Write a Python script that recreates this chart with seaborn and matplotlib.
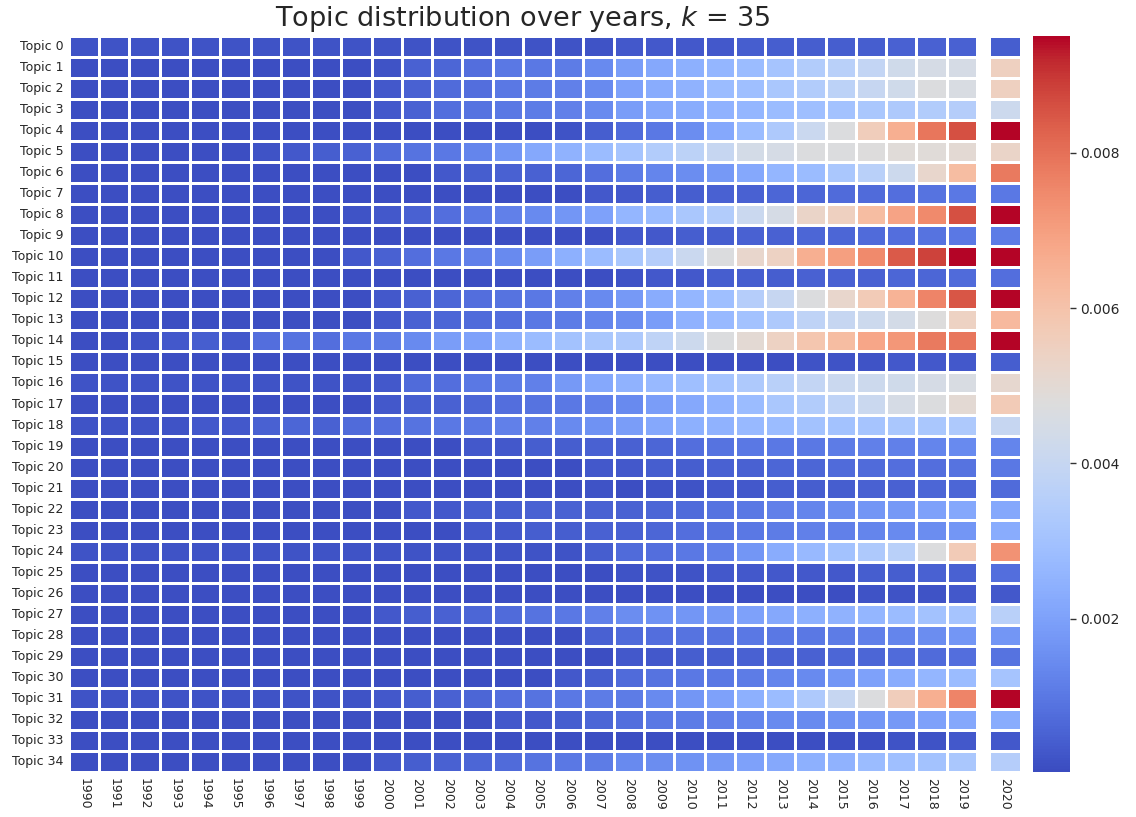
import numpy as np
import pandas as pd
import seaborn as sns
import matplotlib.pyplot as plt

# topic share per year in units of 1e-4
years = [str(y) for y in range(1990, 2020)]
topics = ['Topic %d' % i for i in range(35)]

#            1990 ............................ 1999 | 2000 ........................... 2009 | 2010 ........................... 2019
topic_rows = [
    [2, 2, 2, 2, 2, 2, 2, 2, 2, 2,   2, 2, 2, 2, 2, 2, 2, 2, 3, 3,   3, 3, 4, 4, 4, 4, 4, 5, 5, 5],        # 0
    [1, 1, 1, 1, 1, 1, 1, 1, 1, 1,   2, 5, 6, 8, 10, 10, 11, 14, 19, 22,   24, 26, 28, 31, 34, 36, 39, 43, 45, 45],  # 1
    [1, 1, 1, 1, 1, 1, 1, 1, 1, 1,   3, 5, 7, 8, 10, 11, 12, 14, 20, 23,   25, 28, 29, 32, 34, 37, 40, 43, 47, 46],  # 2
    [1, 1, 1, 1, 1, 1, 1, 1, 1, 1,   3, 5, 8, 9, 10, 11, 12, 14, 19, 22,   23, 25, 26, 28, 29, 30, 32, 33, 34, 35],  # 3
    [1, 1, 1, 1, 1, 1, 1, 1, 1, 1,   1, 1, 1, 1, 1, 1, 2, 4, 7, 10,   15, 22, 28, 33, 41, 47, 56, 66, 79, 86],      # 4
    [1, 1, 1, 1, 1, 1, 2, 3, 4, 5,   7, 9, 10, 13, 17, 22, 25, 28, 31, 34,   37, 40, 44, 45, 47, 47, 48, 49, 49, 50],  # 5
    [1, 1, 1, 1, 1, 1, 1, 1, 1, 1,   1, 1, 3, 4, 5, 5, 6, 8, 11, 13,   15, 18, 22, 26, 28, 32, 36, 42, 52, 62],      # 6
    [1, 1, 1, 1, 1, 1, 1, 1, 1, 1,   1, 1, 1, 1, 1, 1, 1, 3, 3, 4,   4, 5, 5, 6, 6, 7, 7, 8, 9, 10],               # 7
    [1, 1, 1, 1, 1, 1, 1, 1, 1, 2,   3, 5, 8, 10, 12, 14, 17, 20, 26, 28,   32, 34, 41, 45, 53, 55, 62, 69, 75, 86],   # 8
    [1, 1, 1, 1, 1, 1, 1, 1, 1, 1,   1, 1, 1, 1, 1, 1, 1, 1, 3, 3,   4, 4, 5, 5, 6, 6, 7, 8, 9, 10],               # 9
    [1, 1, 1, 1, 1, 1, 1, 1, 1, 3,   5, 8, 10, 12, 14, 19, 24, 28, 32, 35,   41, 47, 52, 54, 66, 70, 75, 84, 88, 95],  # 10
    [1, 1, 1, 1, 1, 1, 1, 1, 1, 1,   1, 1, 1, 1, 1, 1, 1, 1, 2, 3,   3, 4, 4, 4, 5, 5, 5, 6, 6, 7],                # 11
    [1, 1, 1, 1, 1, 1, 1, 1, 1, 1,   3, 5, 6, 8, 9, 10, 12, 14, 18, 23,   26, 29, 35, 40, 47, 52, 57, 65, 76, 85],   # 12
    [1, 1, 1, 1, 1, 1, 1, 1, 1, 1,   3, 5, 6, 7, 8, 10, 11, 13, 15, 19,   25, 27, 30, 33, 38, 40, 42, 44, 48, 54],   # 13
    [1, 1, 2, 3, 4, 3, 8, 9, 8, 10,   11, 14, 19, 20, 25, 28, 30, 32, 33, 38,   42, 47, 50, 54, 59, 62, 68, 72, 78, 79],  # 14
    [1, 1, 1, 1, 1, 1, 1, 1, 1, 1,   1, 1, 1, 1, 1, 1, 1, 1, 1, 1,   1, 1, 1, 1, 2, 2, 2, 3, 3, 3],                # 15
    [2, 2, 2, 2, 2, 2, 2, 2, 2, 2,   3, 7, 8, 10, 11, 12, 18, 22, 25, 27,   29, 31, 33, 36, 39, 41, 42, 43, 45, 46],   # 16
    [1, 1, 1, 1, 1, 1, 1, 1, 1, 1,   3, 4, 5, 6, 8, 9, 10, 12, 14, 19,   22, 25, 28, 32, 34, 38, 41, 45, 47, 50],     # 17
    [2, 2, 2, 2, 3, 3, 5, 6, 5, 7,   8, 9, 10, 10, 12, 12, 14, 16, 19, 22,   24, 25, 27, 28, 30, 30, 31, 32, 32, 33],   # 18
    [1, 1, 1, 1, 1, 1, 1, 1, 1, 1,   1, 1, 1, 3, 3, 4, 4, 5, 5, 6,   8, 9, 10, 10, 10, 11, 12, 12, 13, 14],        # 19
    [1, 1, 1, 1, 1, 1, 1, 1, 1, 1,   1, 1, 1, 1, 1, 1, 1, 3, 3, 4,   4, 5, 5, 6, 6, 7, 7, 8, 8, 9],                # 20
    [1, 1, 1, 1, 1, 1, 1, 1, 1, 1,   1, 1, 1, 1, 1, 1, 1, 2, 1, 2,   2, 3, 3, 4, 4, 4, 5, 5, 6, 6],                # 21
    [1, 1, 1, 1, 1, 1, 1, 1, 1, 1,   1, 3, 3, 4, 4, 5, 5, 5, 5, 6,   7, 9, 10, 12, 13, 15, 17, 18, 20, 22],        # 22
    [1, 1, 1, 1, 1, 1, 1, 1, 1, 1,   1, 1, 1, 3, 3, 4, 4, 5, 5, 6,   8, 9, 10, 11, 12, 12, 13, 14, 15, 17],        # 23
    [2, 2, 2, 2, 2, 2, 2, 2, 2, 2,   2, 2, 2, 2, 2, 2, 2, 4, 7, 8,   10, 12, 17, 23, 27, 30, 33, 36, 47, 57],      # 24
    [1, 1, 1, 1, 1, 1, 1, 1, 1, 1,   1, 1, 1, 1, 1, 1, 1, 1, 2, 2,   2, 3, 3, 3, 3, 3, 4, 4, 5, 5],                # 25
    [1, 1, 1, 1, 1, 1, 1, 1, 1, 1,   1, 1, 1, 1, 1, 1, 1, 1, 1, 1,   1, 1, 1, 1, 1, 1, 2, 2, 2, 3],                # 26
    [1, 1, 1, 1, 1, 1, 1, 1, 1, 1,   3, 4, 5, 6, 7, 9, 10, 12, 15, 16,   17, 18, 20, 22, 24, 25, 26, 28, 30, 31],     # 27
    [1, 1, 1, 1, 1, 1, 1, 1, 1, 1,   1, 1, 1, 1, 1, 1, 1, 5, 7, 8,   9, 9, 10, 10, 10, 11, 12, 13, 15, 17],        # 28
    [1, 1, 1, 1, 1, 1, 1, 1, 1, 1,   1, 1, 1, 1, 1, 1, 1, 1, 3, 3,   4, 4, 5, 5, 5, 6, 6, 7, 7, 8],                # 29
    [1, 1, 1, 1, 1, 1, 1, 1, 1, 1,   1, 1, 1, 1, 1, 1, 3, 4, 7, 9,   10, 10, 11, 13, 14, 17, 20, 23, 26, 28],      # 30
    [2, 2, 2, 2, 2, 2, 2, 2, 2, 2,   3, 4, 5, 6, 8, 9, 10, 11, 11, 14,   17, 20, 24, 28, 33, 40, 47, 56, 66, 76],     # 31
    [1, 1, 1, 1, 1, 1, 1, 1, 1, 1,   1, 1, 1, 1, 3, 3, 4, 6, 8, 10,   11, 12, 13, 14, 14, 16, 17, 18, 20, 22],      # 32
    [1, 1, 1, 1, 1, 1, 1, 1, 1, 1,   1, 1, 1, 1, 1, 1, 1, 1, 1, 1,   1, 1, 1, 1, 1, 1, 1, 2, 2, 3],                # 33
    [1, 1, 1, 1, 1, 1, 1, 1, 1, 1,   3, 4, 5, 6, 7, 9, 10, 11, 14, 15,   16, 18, 20, 22, 24, 25, 28, 29, 30, 32],     # 34
]

# the (partial) year 2020, shown in its own column
share_2020 = [4, 55, 55, 42, 95, 53, 78, 10, 95, 11, 95, 8, 95, 63, 95, 4, 51, 57,
              40, 13, 10, 7, 22, 23, 73, 8, 3, 36, 17, 9, 31, 95, 23, 3, 35]

df = pd.DataFrame(np.array(topic_rows) * 1e-4, index=topics, columns=years)
df_2020 = pd.DataFrame({'2020': np.array(share_2020) * 1e-4}, index=topics)

sns.set_theme(style='white')
plt.rcParams['font.family'] = ['DejaVu Sans']

vmin, vmax = 0.00003, 0.0095

fig = plt.figure(figsize=(11.36, 8.17), dpi=100)
ax = fig.add_axes([0.0607, 0.0551, 0.7993, 0.9008])
ax20 = fig.add_axes([0.8706, 0.0551, 0.0282, 0.9008])
cax = fig.add_axes([0.9093, 0.0551, 0.0326, 0.9008])

sns.heatmap(df, ax=ax, cmap='coolwarm', vmin=vmin, vmax=vmax,
            linewidths=0.9, linecolor='white', cbar_ax=cax,
            xticklabels=years, yticklabels=topics)
sns.heatmap(df_2020, ax=ax20, cmap='coolwarm', vmin=vmin, vmax=vmax,
            linewidths=0.9, linecolor='white', cbar=False,
            xticklabels=['2020'], yticklabels=False)

ax.set_title('Topic distribution over years, $k$ = 35', fontsize=19.5, pad=7)
ax.set(xlabel='', ylabel='')
ax20.set(xlabel='', ylabel='')
ax.tick_params(axis='x', labelrotation=-90, labelsize=9, length=0, pad=4)
ax.tick_params(axis='y', labelrotation=0, labelsize=9, length=0, pad=4)
ax20.tick_params(axis='x', labelrotation=-90, labelsize=9, length=0, pad=4)
cax.tick_params(labelsize=10, right=True, length=4, width=1, color='#333333', pad=3)

fig.savefig('out.png', dpi=100)
